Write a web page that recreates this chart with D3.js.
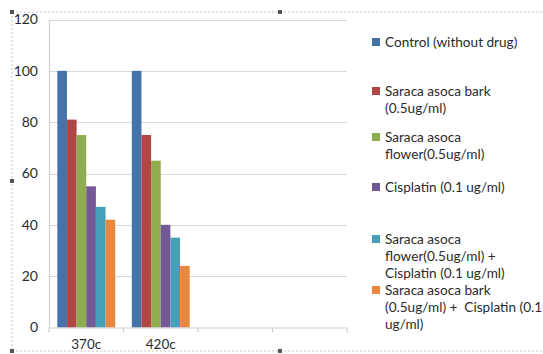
<!DOCTYPE html>
<html>
<head>
<meta charset="utf-8">
<script src="https://cdn.jsdelivr.net/npm/d3@7"></script>
<style>
  body { margin: 0; background: #fff; overflow: hidden; }
  svg { font-family: Lato, "Open Sans", sans-serif; }
</style>
</head>
<body>
<svg id="chart" width="543" height="354"></svg>
<script>
var categories = ["370c", "420c", "", ""];
var seriesNames = [
  "Control (without drug)",
  "Saraca asoca bark (0.5ug/ml)",
  "Saraca asoca flower(0.5ug/ml)",
  "Cisplatin (0.1 ug/ml)",
  "Saraca asoca flower(0.5ug/ml) + Cisplatin (0.1 ug/ml)",
  "Saraca asoca bark (0.5ug/ml) +  Cisplatin (0.1 ug/ml)"
];
// legend lines as wrapped in the picture
var legendLines = [
  ["Control (without drug)"],
  ["Saraca asoca bark", "(0.5ug/ml)"],
  ["Saraca asoca", "flower(0.5ug/ml)"],
  ["Cisplatin (0.1 ug/ml)"],
  ["Saraca asoca", "flower(0.5ug/ml) +", "Cisplatin (0.1 ug/ml)"],
  ["Saraca asoca bark", "(0.5ug/ml) +  Cisplatin (0.1", "ug/ml)"]
];
var values370 = [100, 81, 75, 55, 47, 42];
var values420 = [100, 75, 65, 40, 35, 24];
var yTicks = [0, 20, 40, 60, 80, 100, 120];
var colors = ["#4672aa", "#b24644", "#8fad4f", "#735a96", "#45a0b8", "#e8883f"];

var rows = [
  { cat: "370c", vals: values370 },
  { cat: "420c", vals: values420 }
];

var svg = d3.select("#chart");

// chart area frame (dotted) and selection handles
var frame = svg.append("g");
frame.append("line").attr("x1", 12).attr("x2", 543).attr("y1", 12).attr("y2", 12)
  .attr("stroke", "#c8c8c8").attr("stroke-dasharray", "2,2");
frame.append("line").attr("x1", 12).attr("x2", 12).attr("y1", 12).attr("y2", 351)
  .attr("stroke", "#c8c8c8").attr("stroke-dasharray", "2,2");
frame.append("line").attr("x1", 12).attr("x2", 543).attr("y1", 351).attr("y2", 351)
  .attr("stroke", "#c8c8c8").attr("stroke-dasharray", "2,2");
[[12, 12], [280, 12], [12, 181], [280, 351], [12, 351]].forEach(function (p) {
  frame.append("rect").attr("x", p[0] - 2).attr("y", p[1] - 2)
    .attr("width", 4).attr("height", 4).attr("fill", "#555");
});

var x0 = d3.scaleBand().domain(d3.range(categories.length)).range([49, 347]);
var y = d3.scaleLinear().domain([0, 120]).range([327.5, 19.5]);
var x1 = d3.scaleBand().domain(d3.range(seriesNames.length))
  .range([8.3, x0.bandwidth() - 8.3]);

// gridlines
svg.append("g").selectAll("line")
  .data(yTicks.filter(function (d) { return d > 0; }))
  .enter().append("line")
  .attr("x1", 49).attr("x2", 347)
  .attr("y1", function (d) { return Math.round(y(d)) + 0.5; })
  .attr("y2", function (d) { return Math.round(y(d)) + 0.5; })
  .attr("stroke", "#d9d9d9").attr("stroke-width", 1.2);

// bars
var groups = svg.append("g").selectAll("g")
  .data(rows).enter().append("g")
  .attr("transform", function (d, i) { return "translate(" + x0(i) + ",0)"; });
groups.selectAll("rect")
  .data(function (d) { return d.vals; })
  .enter().append("rect")
  .attr("x", function (d, i) { return x1(i); })
  .attr("width", x1.bandwidth())
  .attr("y", function (d) { return y(d); })
  .attr("height", function (d) { return y(0) - y(d); })
  .attr("fill", function (d, i) { return colors[i]; });

// y axis
var yAxis = svg.append("g").attr("transform", "translate(49,0)")
  .call(d3.axisLeft(y).tickValues(yTicks).tickSize(0).tickPadding(11));
yAxis.select(".domain").attr("stroke", "#d0d0d0").attr("stroke-width", 1.2);
yAxis.selectAll("text").attr("font-size", 14).attr("fill", "#2b2b2b")
  .attr("font-family", "Lato, sans-serif");

// x axis
var xAxis = svg.append("g").attr("transform", "translate(0," + (y(0)) + ")")
  .call(d3.axisBottom(x0).tickFormat(function (i) { return categories[i]; })
    .tickSize(0).tickPadding(12));
xAxis.select(".domain").attr("stroke", "#d0d0d0").attr("stroke-width", 1.2);
xAxis.selectAll("text").attr("font-size", 13.5).attr("fill", "#2b2b2b")
  .attr("font-family", "Lato, sans-serif");
xAxis.selectAll(".edge").data(d3.range(categories.length + 1)).enter()
  .append("line").attr("class", "edge")
  .attr("x1", function (i) { return 49 + i * x0.step(); })
  .attr("x2", function (i) { return 49 + i * x0.step(); })
  .attr("y1", 0).attr("y2", 5)
  .attr("stroke", "#d0d0d0").attr("stroke-width", 1.2);

// legend
var legendY = [42, 91, 137, 187, 239, 290];
var legend = svg.append("g");
legendLines.forEach(function (lines, i) {
  legend.append("rect").attr("x", 372).attr("y", legendY[i] - 4)
    .attr("width", 8).attr("height", 8).attr("fill", colors[i]);
  var t = legend.append("text").attr("x", 385).attr("y", legendY[i] + 5)
    .attr("font-size", 13.6).attr("fill", "#2b2b2b");
  lines.forEach(function (s, j) {
    t.append("tspan").attr("x", 385).attr("dy", j === 0 ? 0 : 17)
      .attr("xml:space", "preserve").text(s);
  });
});
</script>
</body>
</html>
